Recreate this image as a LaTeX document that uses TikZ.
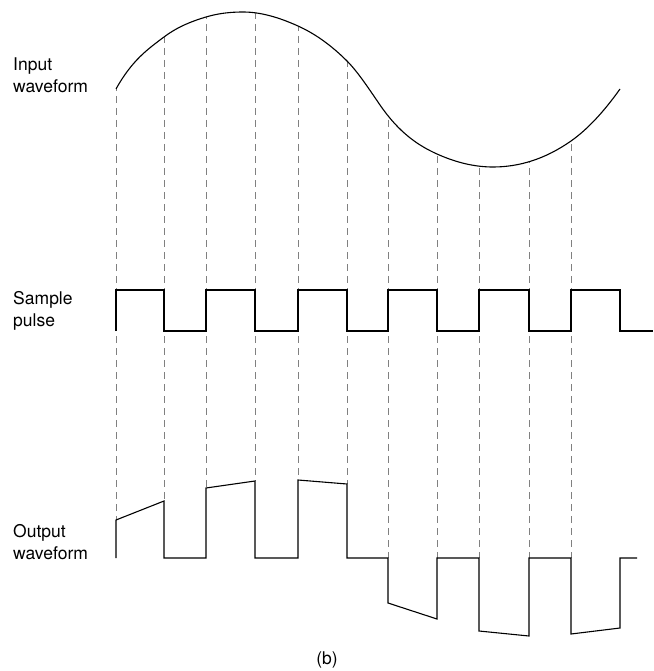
\documentclass[tikz,border=0pt]{standalone}
\usepackage{fontspec}
\setmainfont{TeX Gyre Heros}
\begin{document}
\begin{tikzpicture}[x=1pt,y=-1pt,
  wave/.style={line width=1.1pt, line join=miter},
  guide/.style={gray, line width=0.6pt, dash pattern=on 7pt off 5pt},
  lbl/.style={anchor=base west, inner sep=0pt, font=\fontsize{17.5}{21}\selectfont}]
\useasboundingbox (0,0) rectangle (653,671);
% input waveform
\def\inputcurve{(116,89) .. controls (132,60.2) and (148,49) .. (164,37)
 .. controls (178,26.5) and (192,21.2) .. (206,17)
 .. controls (218.3,13.3) and (230.7,12) .. (243,12)
 .. controls (261.3,12) and (279.7,17.75) .. (298,26)
 .. controls (314.3,33.35) and (330.7,44.7) .. (347,61)
 .. controls (358,72) and (369,89) .. (380,105)
 .. controls (399,132.6) and (418,145.45) .. (437,154)
 .. controls (455.7,162.4) and (474.3,167) .. (493,167)
 .. controls (519,167) and (545,159.2) .. (571,141)
 .. controls (587.3,129.6) and (603.7,111.9) .. (620,89)}
% dashed sampling guides, clipped below the input curve
\begin{scope}
\clip \inputcurve -- (620,671) -- (116,671) -- cycle;
\foreach \x/\y in {116/520,164/501,206/488,255/481,298/480,347/484,388/558,437/558,479/558,529/558,571/558,620/558}
  \draw[guide] (\x,0) -- (\x,\y);
\end{scope}
\draw[wave] \inputcurve;
% sample pulse
\draw[wave] (116,331) -- (116,290) -- (164,290) -- (164,331) -- (206,331) -- (206,290) -- (255,290) -- (255,331) -- (298,331) -- (298,290) -- (347,290) -- (347,331) -- (388,331) -- (388,290) -- (437,290) -- (437,331) -- (479,331) -- (479,290) -- (529,290) -- (529,331) -- (571,331) -- (571,290) -- (620,290) -- (620,331) -- (653,331);
% output waveform
\draw[wave] (116,558) -- (116,520) -- (164,501) -- (164,558) -- (206,558) -- (206,488) -- (255,481) -- (255,558) -- (298,558) -- (298,480) -- (347,484) -- (347,558) -- (388,558) -- (388,603) -- (437,619) -- (437,558) -- (479,558) -- (479,631) -- (529,636) -- (529,558) -- (571,558) -- (571,634) -- (620,628) -- (620,558) -- (637,558);
% labels
\node[lbl] (in1) at (13,71) {Input};
\node[lbl] (in2) at (13,93) {waveform};
\node[lbl] (sp1) at (13,304) {Sample};
\node[lbl] (sp2) at (13,326) {pulse};
\node[lbl] (ou1) at (13,537) {Output};
\node[lbl] (ou2) at (13,559) {waveform};
\node[anchor=base, inner sep=0pt, font=\fontsize{17.5}{21}\selectfont] (cap) at (327,664) {(b)};
\end{tikzpicture}
\end{document}
